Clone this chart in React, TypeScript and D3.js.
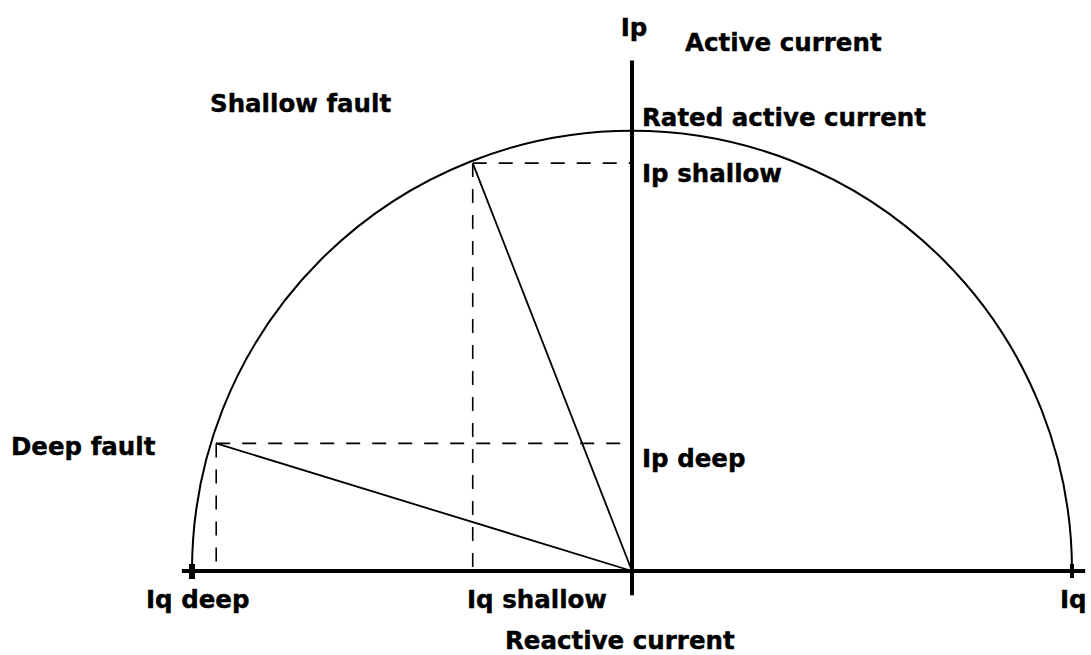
import React from "react";
import * as d3 from "d3";

// Values in per-unit of rated current
const ratedCurrent = 1;
const faultNames = ["Shallow fault", "Deep fault"];
const iqValues = [-0.362, -0.945];
const ipValues = [0.927, 0.29];
const iqLabels = ["Iq shallow", "Iq deep"];
const ipLabels = ["Ip shallow", "Ip deep"];

const W = 1091;
const H = 655;
const FONT = "'DejaVu Sans', Verdana, sans-serif";

export default function App() {
  const x = d3.scaleLinear().domain([-1, 1]).range([192, 1072]);
  const y = d3.scaleLinear().domain([0, 1]).range([571, 131]);
  const cx = x(0);
  const cy = y(0);
  const r = x(ratedCurrent) - x(0);

  const p = d3.path();
  p.arc(cx, cy, r, Math.PI, 2 * Math.PI);
  const arcD = p.toString();

  const txt = (t: string, tx: number, ty: number, anchor = "start") => (
    <text
      key={t}
      x={tx}
      y={ty}
      textAnchor={anchor}
      fontFamily={FONT}
      fontWeight="bold"
      fontSize={24.5}
      fill="#000"
      stroke="#000"
      strokeWidth={0.4}
    >
      {t}
    </text>
  );

  const dash = "14,12";

  return (
    <svg
      width={W}
      height={H}
      style={{ position: "absolute", left: 0, top: 0, background: "#fff" }}
    >
      <rect width={W} height={H} fill="#fff" />
      {/* semicircle */}
      <path d={arcD} fill="none" stroke="#000" strokeWidth={2} />

      {/* dashed projections and vectors */}
      {iqValues.map((iq, i) => (
        <g key={i}>
          <line
            x1={x(iq)}
            y1={y(ipValues[i])}
            x2={x(0)}
            y2={y(ipValues[i])}
            stroke="#000"
            strokeWidth={1.6}
            strokeDasharray={dash}
          />
          <line
            x1={x(iq)}
            y1={y(ipValues[i])}
            x2={x(iq)}
            y2={y(0)}
            stroke="#000"
            strokeWidth={1.6}
            strokeDasharray={dash}
          />
          <line
            x1={x(0)}
            y1={y(0)}
            x2={x(iq)}
            y2={y(ipValues[i])}
            stroke="#000"
            strokeWidth={1.8}
          />
        </g>
      ))}

      {/* axes */}
      <line x1={x(-1.023)} y1={cy} x2={x(1.03)} y2={cy} stroke="#000" strokeWidth={4} />
      <line x1={cx} y1={y(1.16)} x2={cx} y2={y(-0.055)} stroke="#000" strokeWidth={4} />
      {/* end ticks */}
      <line x1={x(-1)} y1={cy - 7} x2={x(-1)} y2={cy + 8} stroke="#000" strokeWidth={6} />
      <line x1={x(1)} y1={cy - 7} x2={x(1)} y2={cy + 7} stroke="#000" strokeWidth={4} />

      {/* labels */}
      {txt("Ip", cx + 2, 36, "middle")}
      {txt("Active current", 685, 51)}
      {txt("Rated active current", cx + 10, y(ratedCurrent) - 5)}
      {txt(ipLabels[0], cx + 10, y(ipValues[0]) + 19)}
      {txt(ipLabels[1], cx + 10, y(ipValues[1]) + 24)}
      {txt(faultNames[0], 210, 112)}
      {txt(faultNames[1], 11, 455)}
      {txt(iqLabels[1], 146, 608)}
      {txt(iqLabels[0], 467, 608)}
      {txt("Iq", 1060, 608)}
      {txt("Reactive current", 505, 649)}
    </svg>
  );
}
